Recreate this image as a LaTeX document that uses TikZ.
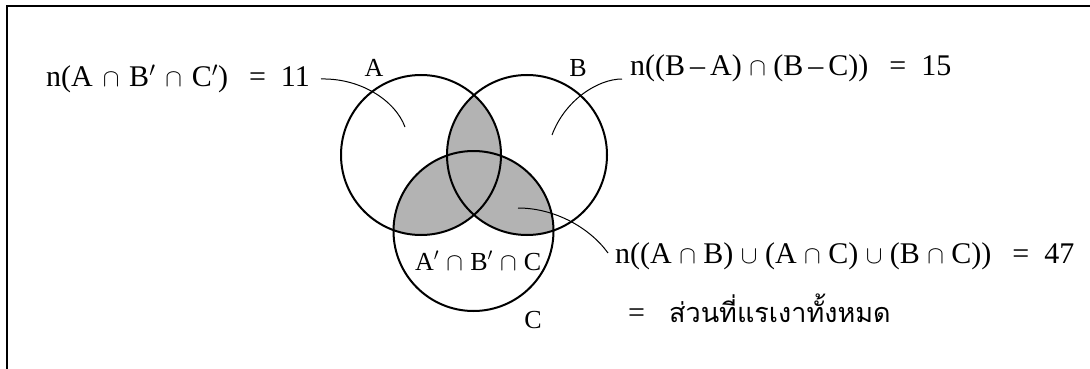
\documentclass[tikz,border=0pt]{standalone}
\usepackage{fontspec}
\setmainfont{Liberation Serif}
\newfontfamily\thaifont[Script=Thai]{Loma}
\definecolor{shadegray}{RGB}{179,179,179}
\newcommand\opsp{\hspace{0.25em}}
\newcommand\opspw{\hspace{0.33em}}
\newcommand\eqL{\hspace{0.7em}}
\newcommand\eqR{\hspace{0.5em}}
\begin{document}
\begin{tikzpicture}[x=1pt,y=-1pt,
  txt/.style={font=\fontsize{30}{34}\selectfont, inner sep=0pt},
  lbl/.style={font=\fontsize{26}{30}\selectfont, inner sep=0pt},
  setline/.style={line width=2pt},
  leader/.style={line width=1pt},
  frameline/.style={line width=2pt}]
\useasboundingbox (0,0) rectangle (1090,369);
% frame
\draw[frameline] (7,369) -- (7,6) -- (1090,6);
% centres
\coordinate (cA) at (421,155);
\coordinate (cB) at (527,155);
\coordinate (cC) at (473.5,231);
\def\rr{80}
% shading of pairwise intersections
\begin{scope}
  \clip (cA) circle[radius=\rr];
  \fill[shadegray] (cB) circle[radius=\rr];
  \fill[shadegray] (cC) circle[radius=\rr];
\end{scope}
\begin{scope}
  \clip (cB) circle[radius=\rr];
  \fill[shadegray] (cC) circle[radius=\rr];
\end{scope}
% circles
\draw[setline] (cA) circle[radius=\rr];
\draw[setline] (cB) circle[radius=\rr];
\draw[setline] (cC) circle[radius=\rr];
% labels
\node[lbl, anchor=base] (labA) at (374,77) {A};
\node[lbl, anchor=base] (labB) at (578,77) {B};
\node[lbl, anchor=base] (labC) at (533,328) {C};
\node[txt, anchor=base west] (t1) at (46,86)
  {n(A\opspw$\cap$\opspw B$'$\opspw$\cap$\opspw C$'$)\eqL=\eqR 11};
\node[txt, anchor=base west] (t2) at (630,76)
  {n((B\,–\,A)\opsp$\cap$\opsp(B\,–\,C))\eqL=\eqR 15};
\node[txt, anchor=base west] (t3) at (615,263)
  {n((A\opsp$\cap$\opsp B)\opsp$\cup$\opsp(A\opsp$\cap$\opsp C)\opsp$\cup$\opsp(B\opsp$\cap$\opsp C))\eqL=\eqR 47};
\node[txt, anchor=base west] (t4) at (628,322)
  {=\hspace{0.8em}{\thaifont\fontsize{27}{32}\selectfont ส่วนที่แรเงาทั้งหมด}};
\node[lbl, anchor=base west] (t5) at (415,270)
  {A$'$\;$\cap$\;B$'$\;$\cap$\;C};
% leader lines
\coordinate (l1s) at (321,79);
\coordinate (l1e) at (405,127);
\coordinate (l2s) at (622,79);
\coordinate (l2e) at (552,135);
\coordinate (l3s) at (518,208);
\coordinate (l3e) at (608,253);
\draw[leader] (l1s) .. controls (360,78) and (395,100) .. (l1e);
\draw[leader] (l2s) .. controls (598,79) and (565,100) .. (l2e);
\draw[leader] (l3s) .. controls (555,208) and (590,228) .. (l3e);
\end{tikzpicture}
\end{document}
